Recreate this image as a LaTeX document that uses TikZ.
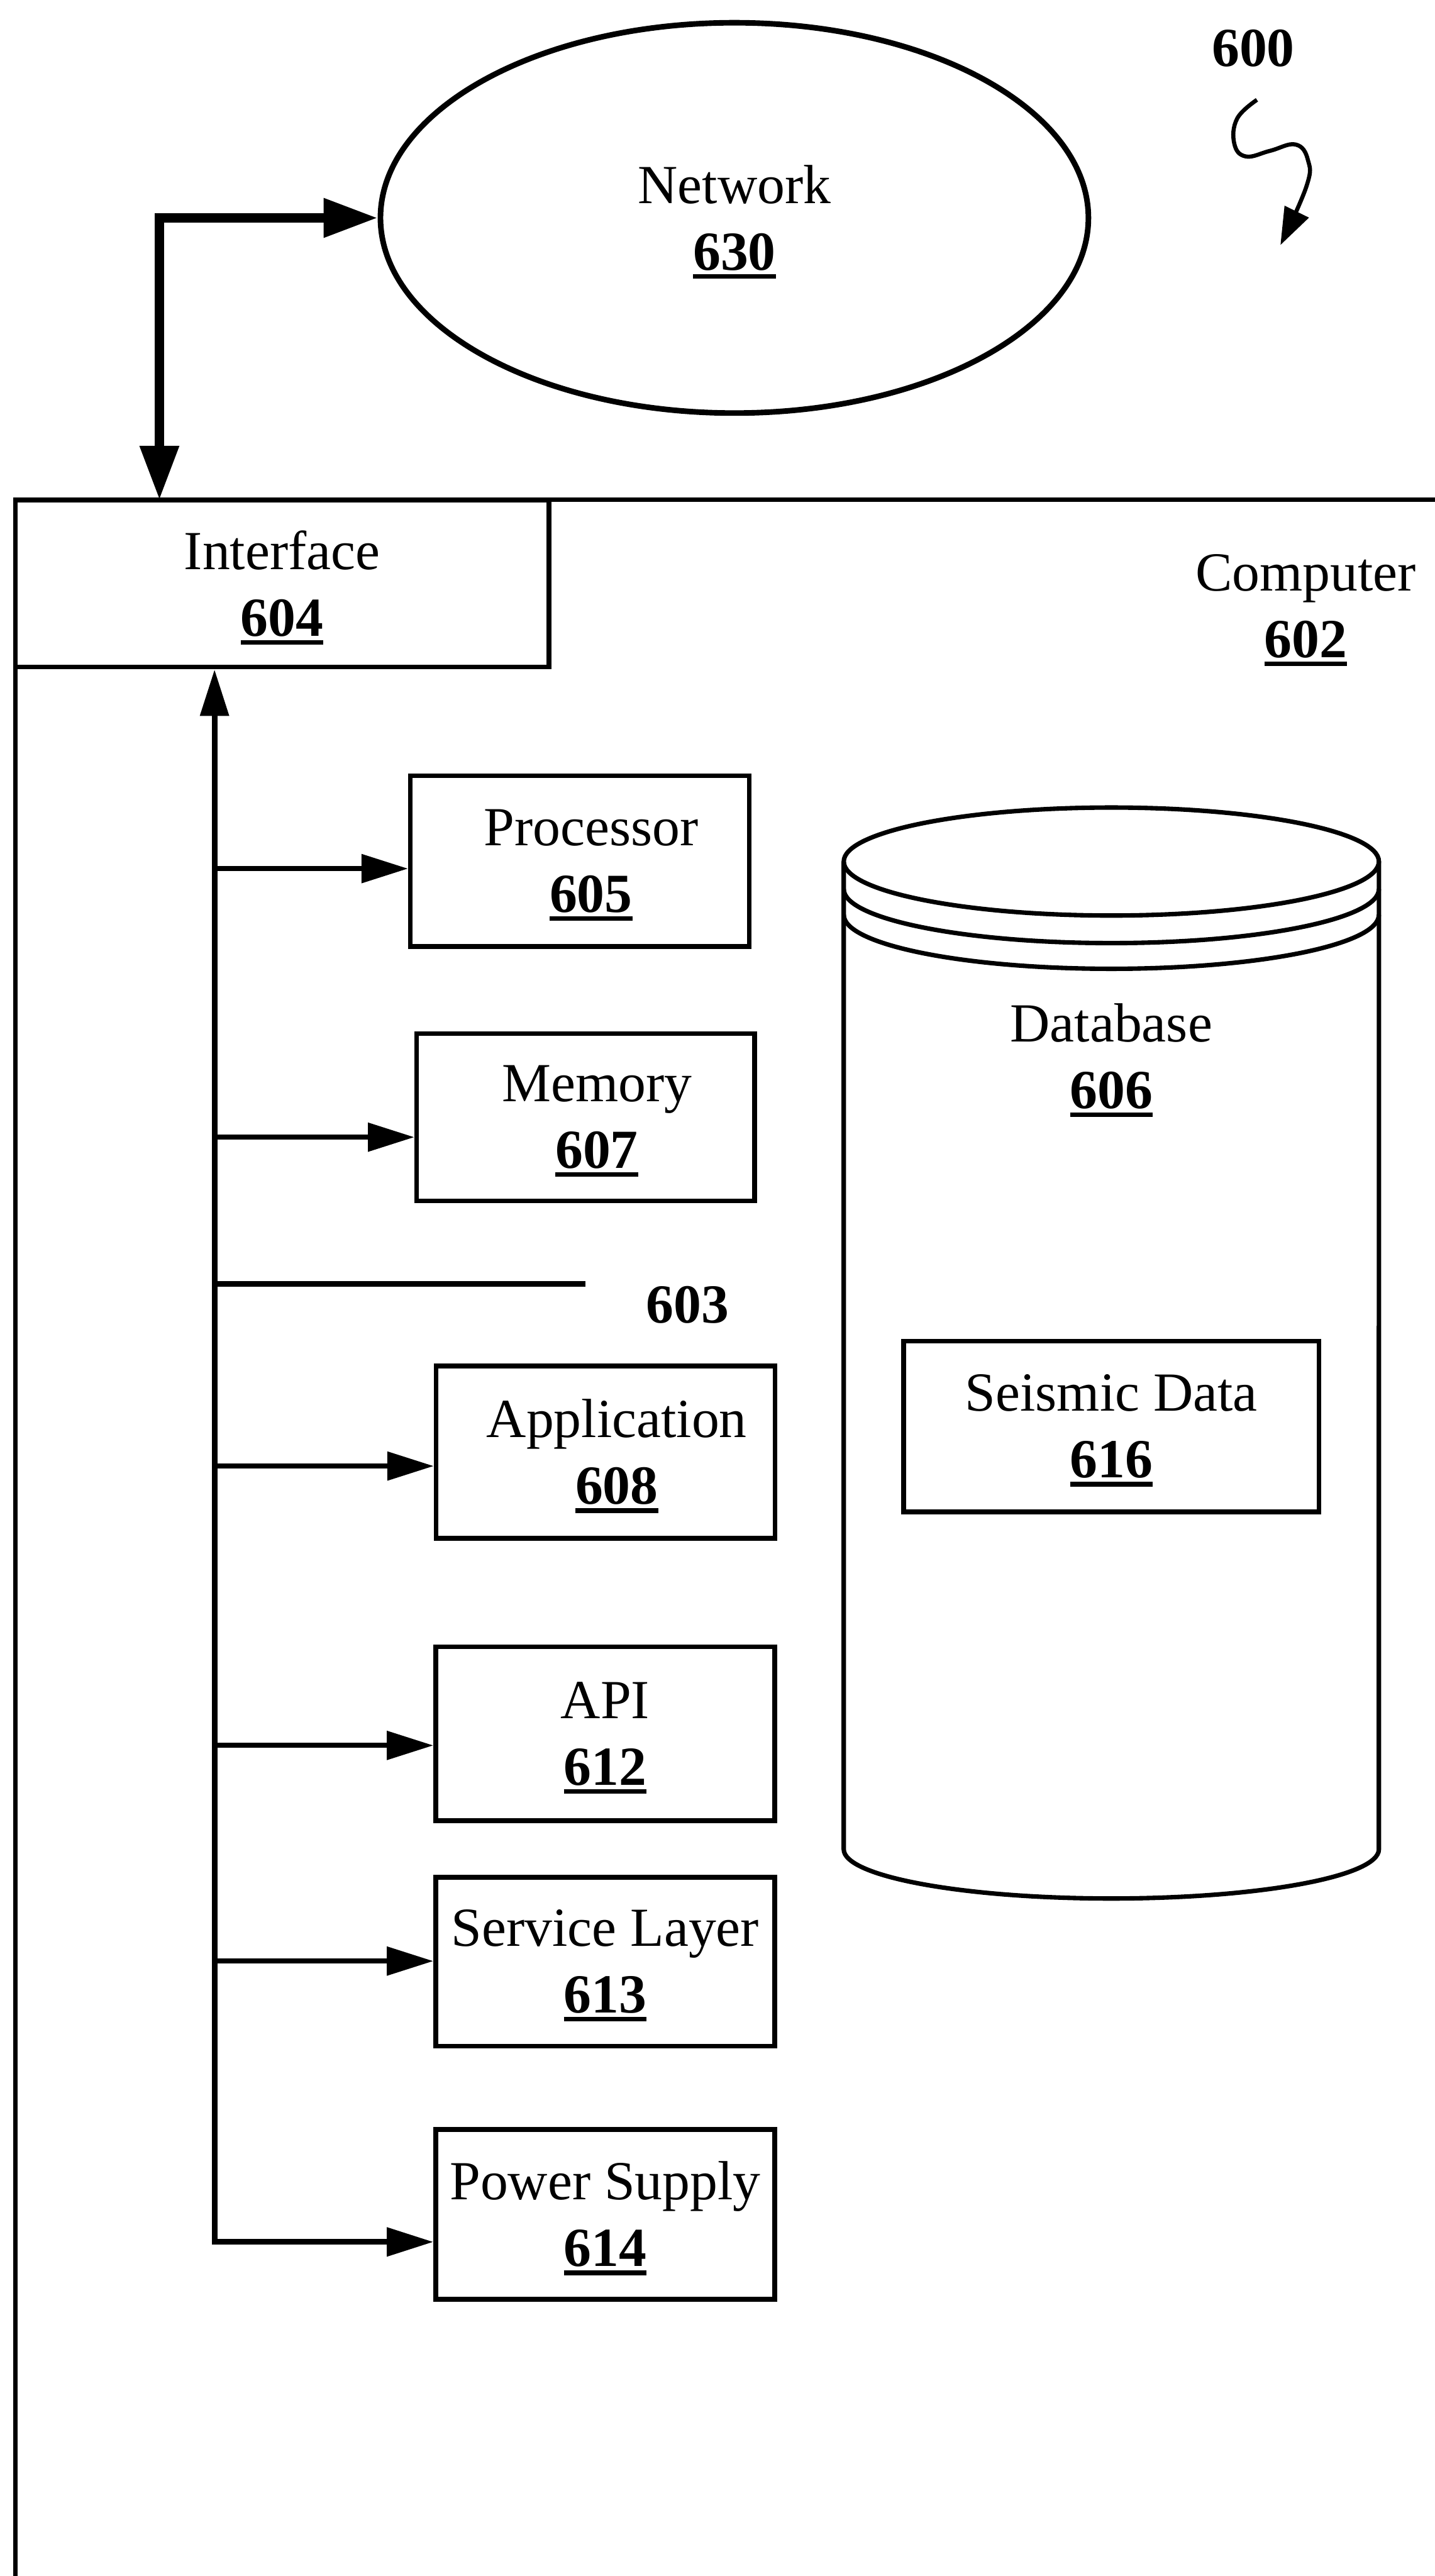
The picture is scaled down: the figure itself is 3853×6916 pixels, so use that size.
\documentclass[tikz,border=0pt]{standalone}
\usepackage{fontspec}
\setmainfont{Liberation Serif}
\usetikzlibrary{arrows.meta,shapes.geometric}
% bold, underlined reference numeral (the rule adds no depth)
\newcommand\refnum[1]{\setbox0\hbox{\bfseries #1}\leavevmode\rlap{\smash{\rule[-2.3pt]{\wd0}{1.2pt}}}\box0}
% small rightward nudge of a text line inside a box
\newcommand\nudge{\hspace*{6pt}}

\begin{document}
\begin{tikzpicture}[x=0.1pt,y=-0.1pt,
  lbl/.style={font=\fontsize{14.8pt}{17.9pt}\selectfont, align=center, inner sep=0pt},
  part/.style={lbl, draw, line width=1.25pt, minimum width=91pt, minimum height=45.8pt},
  netlink/.style={line width=2.5pt, {Triangle[length=14.5pt,width=10pt]}-{Triangle[length=14.5pt,width=10pt]}},
  busline/.style={line width=1.5pt, {Triangle[length=12.5pt,width=7.5pt]}-{Triangle[length=12.5pt,width=7.5pt]}},
  feed/.style={line width=1.4pt, -{Triangle[length=12.5pt,width=7.5pt]}},
  outline/.style={line width=1.2pt},
]
\useasboundingbox (0,0) rectangle (3853,6916);

% figure number with its leader
\node[lbl] (fig) at (3365,129) {\bfseries 600};
\draw[line width=1.1pt, -{Triangle[length=10pt,width=7pt]}]
  plot[smooth, tension=0.7] coordinates {(3375,268) (3322,318) (3314,385) (3345,420)
  (3410,405) (3479,388) (3512,430) (3508,500) (3438,658)};

% network
\node[lbl, draw, ellipse, line width=1.5pt, minimum width=190.1pt, minimum height=104.8pt]
  (net) at (1972,585) {Network\\\refnum{630}};

% computer frame (continues past the page edges)
\draw[outline] (41,7000) -- (41,1342) -- (3950,1342);
\node[lbl] (pc) at (3506,1627) {Computer\\\refnum{602}};

% interface
\node[part, minimum width=143.3pt, minimum height=44.9pt] (ifc) at (757.5,1566.5) {Interface\\\refnum{604}};
\coordinate (nettap) at (428,1342);
\draw[netlink] (nettap) |- (net.west);

% components on the bus
\node[part] (cpu) at (1557,2312) {\nudge Processor\\\nudge\refnum{605}};
\node[part, minimum width=90.7pt, minimum height=44.9pt] (mem) at (1572.5,2999.5) {\nudge Memory\\\nudge\refnum{607}};
\node[part, minimum height=46.3pt] (app) at (1626,3898.5) {\nudge Application\\\nudge\refnum{608}};
\node[part, minimum height=46.7pt] (api) at (1625,4654.5) {API\\\refnum{612}};
\node[part, minimum height=45.3pt] (svc) at (1625,5266.5) {Service Layer\\\refnum{613}};
\node[part, minimum height=45.6pt] (pwr) at (1625,5945) {Power Supply\\\refnum{614}};

% bus taps
\coordinate (b605) at (576,2332);
\coordinate (b607) at (576,3053);
\coordinate (b603) at (576,3447);
\coordinate (b608) at (576,3936);
\coordinate (b612) at (576,4686);
\coordinate (b613) at (576,5265);
\coordinate (b614) at (576,6019);
\coordinate (e603) at (1572,3447);

\draw[busline] (ifc.south -| b605) -- (b614) -- (b614 -| pwr.west);
\draw[feed] (b605) -- (b605 -| cpu.west);
\draw[feed] (b607) -- (b607 -| mem.west);
\draw[feed] (b608) -- (b608 -| app.west);
\draw[feed] (b612) -- (b612 -| api.west);
\draw[feed] (b613) -- (b613 -| svc.west);
\draw[line width=1.6pt] (b603) -- (e603);
\node[lbl] (n603) at (1846,3504) {\bfseries 603};

% database cylinder
\draw[outline] (2984,2313) ellipse [x radius=71.85pt, y radius=14.5pt];
\draw[outline] (2265.5,2387) arc[start angle=180, end angle=360, x radius=71.85pt, y radius=14.5pt];
\draw[outline] (2265.5,2456) arc[start angle=180, end angle=360, x radius=71.85pt, y radius=14.5pt];
\draw[outline] (2265.5,2313) -- (2265.5,4965)
  arc[start angle=180, end angle=360, x radius=71.85pt, y radius=13.2pt] -- (3702.5,2313);
\node[lbl] (db) at (2984,2835) {Database\\\refnum{606}};
\node[part, minimum width=111.6pt, minimum height=45.8pt] (seis) at (2984,3830) {Seismic Data\\\refnum{616}};

\end{tikzpicture}
\end{document}
